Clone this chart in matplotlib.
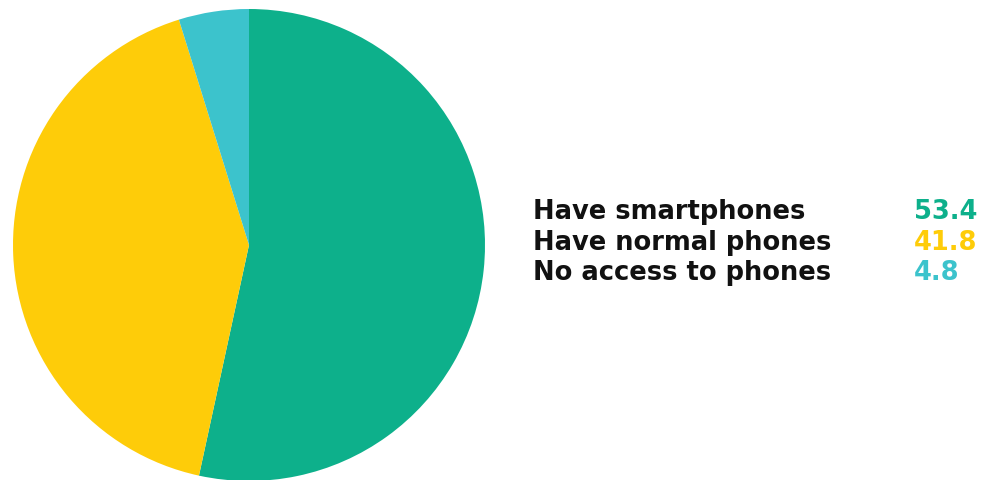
import matplotlib
matplotlib.use("Agg")
import matplotlib.pyplot as plt

labels = ["Have smartphones", "Have normal phones", "No access to phones"]
values = [53.4, 41.8, 4.8]
colors = ["#0db08b", "#fecc09", "#3cc3cc"]

W, H = 990, 481
fig = plt.figure(figsize=(W / 100, H / 100), dpi=100)

# pie: center ~ (249, 246) px, radius ~236 px
cx, cy, r = 249, 246, 236
ax = fig.add_axes([(cx - r) / W, (H - cy - r) / H, 2 * r / W, 2 * r / H])
ax.pie(values, colors=colors, startangle=90, counterclock=False,
       wedgeprops=dict(linewidth=0))
ax.set_xlim(-1, 1)
ax.set_ylim(-1, 1)
ax.set_aspect("equal")
ax.axis("off")

ys = [212, 243, 273]
for lab, val, col, y in zip(labels, values, colors, ys):
    fig.text(533 / W, 1 - y / H, lab, fontsize=18.5, fontweight="bold",
             family="DejaVu Sans", color="#111111", va="center", ha="left")
    fig.text(914 / W, 1 - y / H, f"{val:.1f}", fontsize=18.5, fontweight="bold",
             family="DejaVu Sans", color=col, va="center", ha="left")

fig.savefig("out.png", dpi=100)
